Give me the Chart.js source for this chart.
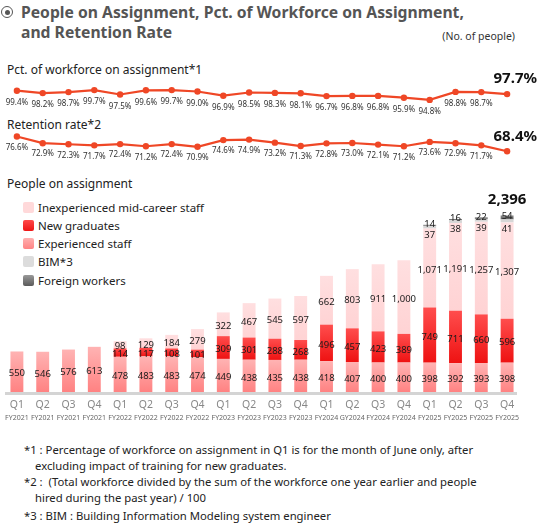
<!DOCTYPE html>
<html>
<head>
<meta charset="utf-8">
<script src="https://cdn.jsdelivr.net/npm/chart.js@4.4.1/dist/chart.umd.min.js"></script>
<style>
body{margin:0;width:538px;height:524px;position:relative;background:#fff;font-family:"Noto Sans",sans-serif;color:#333;overflow:hidden}
.t{position:absolute;white-space:nowrap}
#chart{position:absolute;left:0;top:0}
.title{left:21px;top:2px;font-size:15.7px;font-weight:bold;color:#555;line-height:20px}
.icon{position:absolute;left:1px;top:6px;width:10px;height:10px;border:1.5px solid #555;border-radius:50%}
.icon:after{content:"";position:absolute;left:2.5px;top:2.5px;width:5px;height:5px;border-radius:50%;background:#555}
.unit{right:23px;top:29px;font-size:10.5px;line-height:14px}
.sec{left:7px;font-size:12px;line-height:16px;color:#222}
.lg{left:38px;font-size:11.5px;line-height:14px;color:#222}
.sw{position:absolute;left:23px;width:11px;height:11px;border-radius:2px}
.fn{font-size:11.3px;line-height:14px;color:#222}
</style>
</head>
<body>
<div class="icon"></div>
<div class="t title">People on Assignment, Pct. of Workforce on Assignment,<br>and Retention Rate</div>
<div class="t unit">(No. of people)</div>
<div class="t sec" style="top:62px">Pct. of workforce on assignment*1</div>
<div class="t sec" style="top:117px">Retention rate*2</div>
<div class="t sec" style="top:176px">People on assignment</div>

<div class="sw" style="top:202px;background:#ffd9da"></div>
<div class="t lg" style="top:201px">Inexperienced mid-career staff</div>
<div class="sw" style="top:220px;background:linear-gradient(#ff4a4a,#ee1515)"></div>
<div class="t lg" style="top:219px">New graduates</div>
<div class="sw" style="top:238px;background:linear-gradient(#ffb0b0,#ff8484)"></div>
<div class="t lg" style="top:237px">Experienced staff</div>
<div class="sw" style="top:256px;background:#dcdcdc"></div>
<div class="t lg" style="top:255px">BIM*3</div>
<div class="sw" style="top:275px;background:linear-gradient(#999,#5a5a5a)"></div>
<div class="t lg" style="top:274px">Foreign workers</div>

<canvas id="chart" width="538" height="430"></canvas>

<div class="t fn" style="left:24px;top:443px">*1 : Percentage of workforce on assignment in Q1 is for the month of June only, after</div>
<div class="t fn" style="left:35px;top:459px">excluding impact of training for new graduates.</div>
<div class="t fn" style="left:24px;top:475px">*2 :&nbsp; (Total workforce divided by the sum of the workforce one year earlier and people</div>
<div class="t fn" style="left:35px;top:491px">hired during the past year) / 100</div>
<div class="t fn" style="left:24px;top:509px">*3 : BIM : Building Information Modeling system engineer</div>

<script>
const quarters = ['Q1','Q2','Q3','Q4','Q1','Q2','Q3','Q4','Q1','Q2','Q3','Q4','Q1','Q2','Q3','Q4','Q1','Q2','Q3','Q4'];
const fiscalYears = ['FY2021','FY2021','FY2021','FY2021','FY2022','FY2022','FY2022','FY2022',
  'FY2023','FY2023','FY2023','FY2023','FY2024','GY2024','FY2024','FY2024','FY2025','FY2025','FY2025','FY2025'];

const pctOnAssignment = [99.4,98.2,98.7,99.7,97.5,99.6,99.7,99.0,96.9,98.5,98.3,98.1,96.7,96.8,96.8,95.9,94.8,98.8,98.7,97.7];
const retentionRate = [76.6,72.9,72.3,71.7,72.4,71.2,72.4,70.9,74.6,74.9,73.2,71.3,72.8,73.0,72.1,71.2,73.6,72.9,71.7,68.4];

const experienced = [550,546,576,613,478,483,483,474,449,438,435,438,418,407,400,400,398,392,393,398];
const newGraduates = [0,0,0,0,114,117,108,101,309,301,288,268,496,457,423,389,749,711,660,596];
const inexperienced = [0,0,0,0,98,129,184,279,322,467,545,597,662,803,911,1000,1071,1191,1257,1307];
const bim = [0,0,0,0,0,0,0,0,0,0,0,0,0,0,0,0,37,38,39,41];
const foreign = [0,0,0,0,0,0,0,0,0,0,0,0,0,0,0,0,14,16,22,54];

const barSeries = [experienced, newGraduates, inexperienced, bim, foreign];
const lineColor = '#ef4726';

// vertical gradient per bar segment, built from the stacked values
function segGradient(topColor, bottomColor) {
  return (c) => {
    const chart = c.chart;
    const y = chart.scales.yBar;
    if (c.type !== 'data' || !y || !chart.chartArea) return topColor;
    let base = 0;
    for (let k = 0; k < c.datasetIndex; k++) base += barSeries[k][c.dataIndex];
    const top = base + barSeries[c.datasetIndex][c.dataIndex];
    const y0 = y.getPixelForValue(top), y1 = y.getPixelForValue(base);
    if (!isFinite(y0) || !isFinite(y1) || y0 === y1) return topColor;
    const g = chart.ctx.createLinearGradient(0, y0, 0, y1);
    g.addColorStop(0, topColor);
    g.addColorStop(1, bottomColor);
    return g;
  };
}

const labelPlugin = {
  id: 'labels',
  beforeDatasetsDraw(chart) {
    const {ctx, chartArea} = chart;
    ctx.save();
    ctx.strokeStyle = '#d4d4d4';
    ctx.lineWidth = 3;
    ctx.beginPath();
    ctx.moveTo(5, chartArea.bottom + 1.5);
    ctx.lineTo(517, chartArea.bottom + 1.5);
    ctx.stroke();
    ctx.restore();
  },
  afterDatasetsDraw(chart) {
    const {ctx, chartArea, scales: {x}} = chart;
    ctx.save();
    ctx.textAlign = 'center';
    ctx.textBaseline = 'middle';

    // bar segment values
    ctx.font = '9.5px "Noto Sans"';
    ctx.fillStyle = '#1a1a1a';
    for (let i = 0; i < barSeries.length; i++) {
      const meta = chart.getDatasetMeta(i);
      meta.data.forEach((el, j) => {
        const v = barSeries[i][j];
        if (!v) return;
        let cy = (el.y + el.base) / 2 + 2;
        if (i === 3) cy = (el.y + el.base) / 2 + 8;
        if (i === 4) cy = (el.y + el.base) / 2 - 1;
        ctx.fillText(v.toLocaleString('en-US'), el.x, cy);
      });
    }

    // totals on last bar
    const last = quarters.length - 1;
    const total = barSeries.reduce((s, a) => s + a[last], 0);
    const topEl = chart.getDatasetMeta(4).data[last];
    ctx.font = 'bold 15px "Noto Sans"';
    ctx.fillStyle = '#111';
    ctx.fillText(total.toLocaleString('en-US'), topEl.x, topEl.y - 16);

    // line point labels
    ctx.font = '8px "Noto Sans"';
    ctx.fillStyle = '#333';
    [[5, pctOnAssignment, 12], [6, retentionRate, 11]].forEach(([di, arr, off]) => {
      const meta = chart.getDatasetMeta(di);
      meta.data.forEach((pt, j) => {
        if (j === last) return;
        ctx.fillText(arr[j].toFixed(1) + '%', pt.x, pt.y + off);
      });
    });

    // latest values, large
    ctx.font = 'bold 15px "Noto Sans"';
    ctx.fillStyle = '#111';
    ctx.textAlign = 'right';
    ctx.fillText(pctOnAssignment[last].toFixed(1) + '%', 537, 79);
    ctx.fillText(retentionRate[last].toFixed(1) + '%', 537, 137);

    // category labels
    ctx.textAlign = 'center';
    quarters.forEach((q, j) => {
      const px = x.getPixelForValue(j);
      ctx.font = '10.5px "Noto Sans"';
      ctx.fillStyle = '#888';
      ctx.fillText(q, px, chartArea.bottom + 13);
      ctx.font = '7px "Noto Sans"';
      ctx.fillStyle = '#666';
      ctx.fillText(fiscalYears[j], px, chartArea.bottom + 26);
    });
    ctx.restore();
  }
};

const barBase = {type: 'bar', yAxisID: 'yBar', stack: 'people', barPercentage: 0.5, categoryPercentage: 1, borderWidth: 0, order: 2};
const lineBase = {type: 'line', borderColor: lineColor, backgroundColor: lineColor, borderWidth: 2.2,
  pointRadius: 3.2, pointBackgroundColor: lineColor, pointBorderWidth: 0, tension: 0, fill: false, order: 1};

new Chart(document.getElementById('chart'), {
  data: {
    labels: quarters,
    datasets: [
      {...barBase, label: 'Experienced staff', data: experienced, backgroundColor: segGradient('#ffb3b3', '#ff8282')},
      {...barBase, label: 'New graduates', data: newGraduates, backgroundColor: segGradient('#ff4d4d', '#ee1212')},
      {...barBase, label: 'Inexperienced mid-career staff', data: inexperienced, backgroundColor: segGradient('#ffdfe0', '#ffd3d4')},
      {...barBase, label: 'BIM*3', data: bim, backgroundColor: '#d6d6d6'},
      {...barBase, label: 'Foreign workers', data: foreign, backgroundColor: segGradient('#8c8c8c', '#5c5c5c')},
      {...lineBase, label: 'Pct. of workforce on assignment', data: pctOnAssignment, yAxisID: 'yPct'},
      {...lineBase, label: 'Retention rate', data: retentionRate, yAxisID: 'yRet'}
    ]
  },
  options: {
    responsive: false,
    animation: false,
    layout: {padding: {left: 0, right: 18, top: 60, bottom: 38}},
    plugins: {legend: {display: false}, tooltip: {enabled: false}},
    scales: {
      x: {display: false, stacked: true, offset: true},
      yBar: {display: false, stacked: true, min: 0, max: 4505},
      yPct: {display: false, min: -51.25, max: 114.75},
      yRet: {display: false, min: -65.3, max: 119.1}
    }
  },
  plugins: [labelPlugin]
});
</script>
</body>
</html>
